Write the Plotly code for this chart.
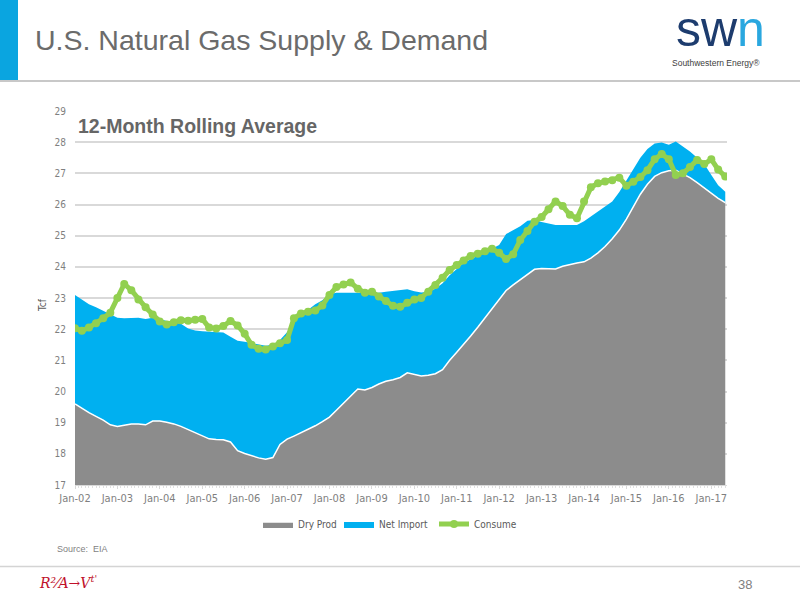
import plotly.graph_objects as go
import pandas as pd

# ---------------- data (bi-monthly, Tcf, 12-month rolling) -------------
dates = pd.date_range("2002-01-01", "2017-05-01", freq="2MS")

dry_prod = [
    19.60, 19.45, 19.32, 19.20, 19.08, 18.93,   # 2002
    18.88, 18.92, 18.96, 18.96, 18.93, 19.05,   # 2003
    19.05, 19.01, 18.96, 18.88, 18.78, 18.68,   # 2004
    18.57, 18.48, 18.46, 18.45, 18.38, 18.10,   # 2005
    18.01, 17.94, 17.87, 17.83, 17.88, 18.30,   # 2006
    18.47, 18.57, 18.68, 18.78, 18.90, 19.03,   # 2007
    19.18, 19.40, 19.62, 19.83, 20.08, 20.05,   # 2008
    20.13, 20.24, 20.33, 20.38, 20.45, 20.60,   # 2009
    20.56, 20.50, 20.52, 20.57, 20.70, 21.00,   # 2010
    21.26, 21.50, 21.78, 22.06, 22.35, 22.65,   # 2011
    22.95, 23.24, 23.42, 23.58, 23.77, 23.92,   # 2012
    23.95, 23.95, 23.93, 24.02, 24.08, 24.12,   # 2013
    24.16, 24.28, 24.45, 24.65, 24.90, 25.18,   # 2014
    25.53, 25.93, 26.33, 26.65, 26.90, 27.02,   # 2015
    27.08, 27.10, 26.98, 26.86, 26.70, 26.53,   # 2016
    26.35, 26.20, 26.06,                        # 2017
]

net_import = [
    3.50, 3.49, 3.48, 3.50, 3.51, 3.57,
    3.49, 3.43, 3.40, 3.41, 3.40, 3.32,
    3.28, 3.25, 3.26, 3.29, 3.24, 3.28,
    3.36, 3.44, 3.44, 3.44, 3.38, 3.53,
    3.59, 3.61, 3.63, 3.64, 3.62, 3.35,
    3.43, 3.68, 3.77, 3.85, 3.90, 3.90,
    3.94, 3.77, 3.55, 3.34, 3.08, 3.10,
    3.03, 2.93, 2.87, 2.84, 2.80, 2.68,
    2.66, 2.68, 2.68, 2.73, 2.77, 2.73,
    2.67, 2.62, 2.46, 2.30, 2.12, 1.93,
    1.75, 1.81, 1.76, 1.72, 1.71, 1.58,
    1.49, 1.43, 1.41, 1.32, 1.26, 1.22,
    1.30, 1.34, 1.33, 1.30, 1.20, 1.22,
    1.25, 1.23, 1.17, 1.13, 1.06, 0.97,
    0.84, 0.92, 0.88, 0.84, 0.80, 0.77,
    0.60, 0.42, 0.35,
]

consume = [
    22.03, 21.95, 22.05, 22.19, 22.35, 22.53,
    23.00, 23.45, 23.25, 22.95, 22.70, 22.47,
    22.25, 22.15, 22.22, 22.29, 22.27, 22.30,
    22.33, 22.05, 22.02, 22.10, 22.26, 22.12,
    21.85, 21.50, 21.37, 21.35, 21.44, 21.55,
    21.65, 22.35, 22.50, 22.56, 22.60, 22.76,
    23.10, 23.35, 23.43, 23.50, 23.30, 23.17,
    23.20, 23.05, 22.90, 22.75, 22.72, 22.85,
    22.95, 23.00, 23.20, 23.42, 23.65, 23.90,
    24.06, 24.20, 24.35, 24.42, 24.50, 24.58,
    24.45, 24.25, 24.40, 24.86, 25.15, 25.45,
    25.60, 25.85, 26.10, 25.95, 25.67, 25.56,
    26.10, 26.55, 26.68, 26.74, 26.78, 26.86,
    26.60, 26.73, 26.88, 27.10, 27.45, 27.62,
    27.45, 26.95, 27.00, 27.20, 27.43, 27.30,
    27.45, 27.12, 26.90,
]

tick_dates = pd.date_range("2002-01-01", "2017-01-01", freq="YS")
tick_text = ["Jan-%02d" % (d.year % 100) for d in tick_dates]
y_ticks = list(range(17, 30))

# ---------------- layout geometry (pixels) ----------------
W, H = 800, 600
L, R, T, B = 75, 727, 111, 485


def px(x):
    return (x - L) / (R - L)


def py(y):
    return (B - y) / (B - T)


GRAY = "#8c8c8c"
BLUE = "#00b0f0"
GREEN = "#92d050"
NARROW = "Liberation Sans Narrow, DejaVu Sans Condensed, Arial Narrow, sans-serif"
SANS = "Liberation Sans, Arial, Helvetica, sans-serif"

fig = go.Figure()
fig.add_trace(go.Scatter(
    x=dates, y=dry_prod, name="Dry Prod", mode="lines",
    stackgroup="one", line=dict(color="white", width=1.5),
    fillcolor=GRAY, legendwidth=36,
))
fig.add_trace(go.Scatter(
    x=dates, y=net_import, name="Net Import", mode="lines",
    stackgroup="one", line=dict(color=BLUE, width=0),
    fillcolor=BLUE, legendwidth=50,
))
fig.add_trace(go.Scatter(
    x=dates, y=consume, name="Consume", mode="lines+markers",
    line=dict(color=GREEN, width=5),
    marker=dict(color=GREEN, size=8), legendwidth=45,
))

fig.update_layout(
    width=W, height=H,
    margin=dict(l=L, r=W - R, t=T, b=H - B, autoexpand=False),
    paper_bgcolor="white", plot_bgcolor="white",
    showlegend=True,
    legend=dict(
        orientation="h", x=px(258), y=py(524), xanchor="left", yanchor="middle",
        font=dict(family=NARROW, size=10, color="#595959"),
        itemwidth=30, bgcolor="rgba(0,0,0,0)", traceorder="normal",
    ),
    xaxis=dict(
        type="date", range=["2002-01-01", "2017-05-16"],
        tickmode="array", tickvals=tick_dates, ticktext=tick_text,
        tickfont=dict(family=NARROW, size=11, color="#7f7f7f"),
        showgrid=False, zeroline=False,
        showline=True, linecolor="#d9d9d9", linewidth=1,
        ticks="outside", ticklen=3, tickcolor="#d9d9d9",
        minor=dict(dtick="M1", ticks="outside", ticklen=2, tickcolor="#e0e0e0"),
    ),
    yaxis=dict(
        range=[17, 29], tickmode="array", tickvals=y_ticks,
        tickfont=dict(family=NARROW, size=10, color="#7f7f7f"),
        showgrid=True, gridcolor="#d9d9d9", gridwidth=1.5,
        zeroline=False, showline=False, ticklabelstandoff=8,
    ),
    font=dict(family=SANS),
)

shapes = [
    # blue bar at top-left of slide
    dict(type="rect", xref="paper", yref="paper", x0=px(0), x1=px(18), y0=py(0), y1=py(80),
         fillcolor="#0aa5e0", line=dict(width=0), layer="above"),
    # line under header
    dict(type="line", xref="paper", yref="paper", x0=px(0), x1=px(800), y0=py(81), y1=py(81),
         line=dict(color="#c8c8c8", width=2)),
    # footer line
    dict(type="line", xref="paper", yref="paper", x0=px(0), x1=px(800), y0=py(566.5), y1=py(566.5),
         line=dict(color="#d4d4d4", width=1.5)),
]
fig.update_layout(shapes=shapes)

annotations = [
    dict(text="U.S. Natural Gas Supply &amp; Demand", x=px(33), y=py(40), xanchor="left", yanchor="middle",
         font=dict(family=SANS, size=28.5, color="#6b6b6b")),
    dict(text="<span style='color:#1d3c6e'>sw</span><span style='color:#2aa7df'>n</span>",
         x=px(720), y=py(58), xanchor="center", yanchor="bottom", borderpad=0,
         font=dict(family=SANS, size=50, color="#1d3c6e")),
    dict(text="Southwestern Energy®", x=px(716), y=py(57), xanchor="center", yanchor="top", borderpad=0,
         font=dict(family=SANS, size=8.5, color="#404040")),
    dict(text="<b>12-Month Rolling Average</b>", x=px(76), y=py(126), xanchor="left", yanchor="middle",
         font=dict(family=SANS, size=19.5, color="#666666")),
    dict(text="Tcf", x=px(42), y=py(305), xanchor="center", yanchor="middle", textangle=-90,
         font=dict(family=NARROW, size=10, color="#595959")),
    dict(text="Source:  EIA", x=px(55), y=py(549), xanchor="left", yanchor="middle",
         font=dict(family=SANS, size=9, color="#7f7f7f")),
    dict(text="<i>R²⁄A→V<sup>t'</sup></i>", x=px(37), y=py(582), xanchor="left", yanchor="middle",
         font=dict(family="DejaVu Serif, serif", size=14, color="#c0102a")),
    dict(text="38", x=px(754), y=py(584), xanchor="right", yanchor="middle",
         font=dict(family=SANS, size=13, color="#7f7f7f")),
]
for a in annotations:
    a.update(xref="paper", yref="paper", showarrow=False)
fig.update_layout(annotations=annotations)

fig.write_html(
    "out.html",
    config={"displayModeBar": False},
    post_script="document.body.style.margin='0';document.body.style.padding='0';",
)
